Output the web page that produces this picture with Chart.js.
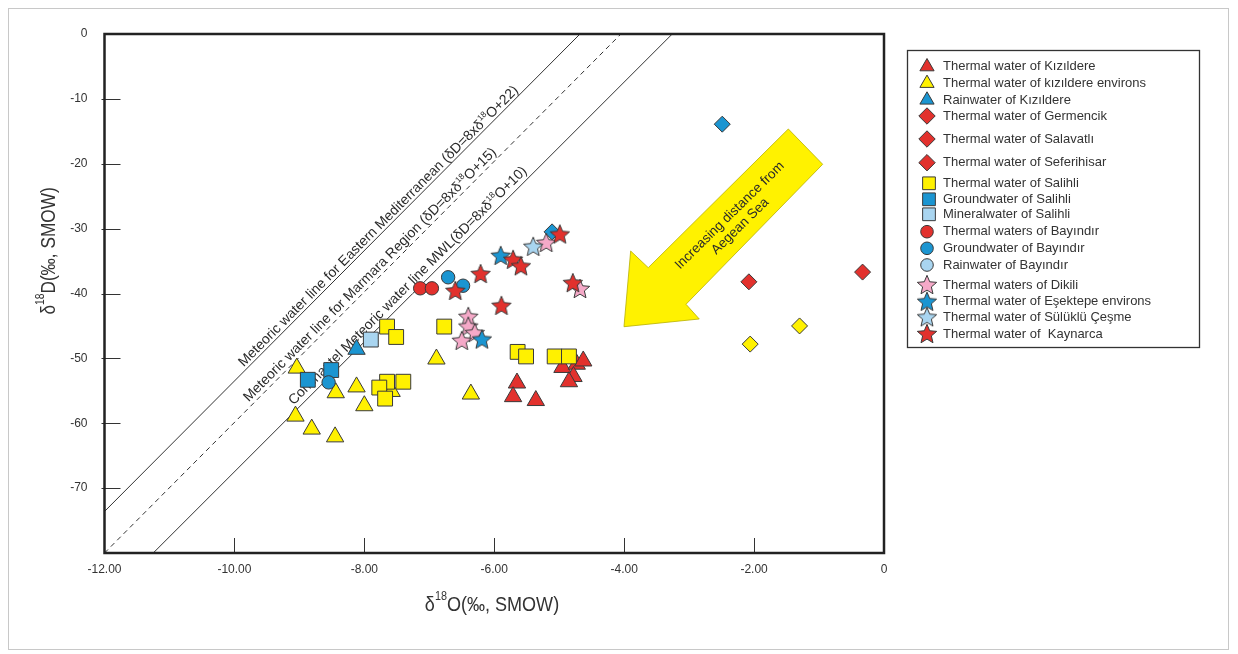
<!DOCTYPE html>
<html>
<head>
<meta charset="utf-8">
<script src="https://cdn.jsdelivr.net/npm/chart.js@4.4.1/dist/chart.umd.min.js"></script>
<style>
  html, body { margin: 0; padding: 0; background: #fff; }
  #wrap { width: 1238px; height: 654px; }
</style>
</head>
<body>
<div id="wrap"><canvas id="isotopeChart" width="1238" height="654"></canvas></div>
<script>
// δ18O / δD pairs
const kizildereThermal = [[-4.95,-51.4],[-4.73,-50.9],[-4.63,-50.4],[-4.78,-52.8],[-4.85,-53.6],[-5.65,-53.8],[-5.71,-55.9],[-5.36,-56.5]];
const kizildereEnvirons = [[-9.04,-51.5],[-8.44,-55.3],[-8.12,-54.4],[-8.00,-57.3],[-9.06,-58.9],[-8.81,-60.9],[-8.45,-62.1],[-7.58,-55.1],[-6.89,-50.1],[-6.36,-55.5]];
const kizildereRain = [[-8.12,-48.6]];
const germencik = [[-2.08,-38.2],[-0.33,-36.7]];
const salavatli = [[-1.30,-45.0],[-2.06,-47.8]];
const seferihisar = [[-2.49,-13.9],[-5.11,-30.5]];
const salihliThermal = [[-7.65,-45.1],[-7.51,-46.7],[-6.77,-45.1],[-5.64,-49.0],[-5.51,-49.7],[-5.07,-49.7],[-4.85,-49.7],[-7.65,-53.6],[-7.77,-54.5],[-7.40,-53.6],[-7.68,-56.2]];
const salihliGround = [[-8.87,-53.3],[-8.51,-51.8]];
const salihliMineral = [[-7.90,-47.1]];
const bayindirThermal = [[-7.14,-39.2],[-6.96,-39.2]];
const bayindirGround = [[-6.71,-37.5],[-6.48,-38.8],[-8.55,-53.7]];
const bayindirRain = [];
const dikili = [[-5.20,-32.2],[-4.68,-39.3],[-6.40,-43.6],[-6.40,-45.1],[-6.30,-46.1],[-6.50,-47.3]];
const esektepe = [[-5.90,-34.2],[-6.19,-47.1]];
const suluklu = [[-5.40,-32.8]];
const kaynarca = [[-6.60,-39.6],[-6.21,-37.0],[-5.71,-34.8],[-5.59,-35.8],[-4.99,-30.9],[-4.79,-38.4],[-5.89,-41.9]];

const seriesNames = ['Thermal water of Kızıldere', 'Thermal water of kızıldere environs', 'Rainwater of Kızıldere',
  'Thermal water of Germencik', 'Thermal water of Salavatlı', 'Thermal water of Seferihisar',
  'Thermal water of Salihli', 'Groundwater of Salihli', 'Mineralwater of Salihli',
  'Thermal waters of Bayındır', 'Groundwater of Bayındır', 'Rainwater of Bayındır',
  'Thermal waters of Dikili', 'Thermal water of Eşektepe environs', 'Thermal water of Sülüklü Çeşme', 'Thermal water of  Kaynarca'];
const seriesData = [kizildereThermal, kizildereEnvirons, kizildereRain, germencik, salavatli, seferihisar,
  salihliThermal, salihliGround, salihliMineral, bayindirThermal, bayindirGround, bayindirRain,
  dikili, esektepe, suluklu, kaynarca];

// meteoric water lines, end points as drawn in the figure
const eastMedLine = [[-12, -73.6], [-4.68, 0]];
const marmaraLine = [[-12, -80], [-4.05, 0]];
const continentalLine = [[-11.25, -80], [-3.26, 0]];

const xTickValues = [-12, -10, -8, -6, -4, -2, 0];
const yTickValues = [-80, -70, -60, -50, -40, -30, -20, -10, 0];

// arrow outline (data coords)
const arrowShape = [[-1.473,-14.64],[-0.944,-20.08],[-3.048,-41.66],[-2.844,-43.93],[-4.003,-45.12],[-3.90,-33.45],[-3.629,-36.02]];

const RED = '#e2312d', YEL = '#fff100', BLUE = '#1b95d1', LBLUE = '#a9d5f0', PINK = '#f5a9c8';
const EDGE = '#3a3a3a';
const FONT = '"Liberation Sans", Arial, sans-serif';

function makeStar(fill) {
  const c = document.createElement('canvas');
  c.width = 24; c.height = 24;
  const g = c.getContext('2d');
  g.beginPath();
  for (let i = 0; i < 10; i++) {
    const r = i % 2 ? 4.6 : 10.2;
    const a = -Math.PI / 2 + i * Math.PI / 5;
    g.lineTo(12 + r * Math.cos(a), 12.5 + r * Math.sin(a));
  }
  g.closePath();
  g.fillStyle = fill; g.fill();
  g.lineWidth = 1; g.strokeStyle = EDGE; g.stroke();
  return c;
}

const seriesStyle = [
  { shape: 'triangle', fill: RED }, { shape: 'triangle', fill: YEL }, { shape: 'triangle', fill: BLUE },
  { shape: 'rectRot', fill: RED }, { shape: 'rectRot', fill: YEL }, { shape: 'rectRot', fill: BLUE },
  { shape: 'rect', fill: YEL }, { shape: 'rect', fill: BLUE }, { shape: 'rect', fill: LBLUE },
  { shape: 'circle', fill: RED }, { shape: 'circle', fill: BLUE }, { shape: 'circle', fill: LBLUE },
  { shape: 'star', fill: PINK }, { shape: 'star', fill: BLUE }, { shape: 'star', fill: LBLUE }, { shape: 'star', fill: RED }
];
const plotRadius = { triangle: 10, rectRot: 8, rect: 10.5, circle: 6.7, star: 10 };
const legendRadius = { triangle: 8.2, rectRot: 8.2, rect: 9, circle: 6.3, star: 10 };
const legendRows = [66.7, 83.3, 100, 116, 139, 162.7, 183.3, 199.3, 214.3, 231.7, 248.3, 265, 285, 301.7, 317.3, 334];

seriesStyle.forEach(s => { if (s.shape === 'star') s.img = makeStar(s.fill); });

function richWidth(ctx, parts, size) {
  let w = 0;
  parts.forEach(p => {
    const sup = typeof p !== 'string';
    ctx.font = (sup ? size * 0.6 : size) + 'px ' + FONT;
    w += ctx.measureText(sup ? p.sup : p).width;
  });
  return w;
}
function drawRich(ctx, parts, x, y, size, align) {
  const w = richWidth(ctx, parts, size);
  let cx = align === 'right' ? x - w : align === 'center' ? x - w / 2 : x;
  ctx.textAlign = 'left';
  parts.forEach(p => {
    const sup = typeof p !== 'string';
    const t = sup ? p.sup : p;
    ctx.font = (sup ? size * 0.6 : size) + 'px ' + FONT;
    ctx.fillText(t, cx, sup ? y - size * 0.42 : y);
    cx += ctx.measureText(t).width;
  });
}

function drawLineLabel(chart, line, endX, offset, parts) {
  const ctx = chart.ctx, xs = chart.scales.x, ys = chart.scales.y;
  const ax = xs.getPixelForValue(line[0][0]), ay = ys.getPixelForValue(line[0][1]);
  const bx = xs.getPixelForValue(line[1][0]), by = ys.getPixelForValue(line[1][1]);
  const t = (xs.getPixelForValue(endX) - ax) / (bx - ax);
  ctx.save();
  ctx.translate(ax + t * (bx - ax), ay + t * (by - ay));
  ctx.rotate(Math.atan2(by - ay, bx - ax));
  ctx.fillStyle = '#2a2a2a';
  ctx.textBaseline = 'alphabetic';
  drawRich(ctx, parts, 0, -offset, 14, 'right');
  ctx.restore();
}

const decorPlugin = {
  id: 'decor',
  beforeDraw(chart) {
    const ctx = chart.ctx;
    ctx.save();
    ctx.fillStyle = '#fff';
    ctx.fillRect(0, 0, chart.width, chart.height);
    ctx.strokeStyle = '#c8c8c8';
    ctx.lineWidth = 1;
    ctx.strokeRect(8.5, 8.5, 1220, 641);
    ctx.restore();
  },
  beforeDatasetsDraw(chart) {
    const ctx = chart.ctx, xs = chart.scales.x, ys = chart.scales.y;
    // yellow arrow
    ctx.save();
    ctx.beginPath();
    arrowShape.forEach(([x, y]) => ctx.lineTo(xs.getPixelForValue(x), ys.getPixelForValue(y)));
    ctx.closePath();
    ctx.fillStyle = '#fff200';
    ctx.fill();
    ctx.strokeStyle = '#b8b000';
    ctx.lineWidth = 0.8;
    ctx.stroke();
    ctx.translate(xs.getPixelForValue(-2.294), ys.getPixelForValue(-28.82));
    ctx.rotate(-44.5 * Math.PI / 180);
    ctx.fillStyle = '#2a2a2a';
    ctx.textAlign = 'center';
    ctx.textBaseline = 'middle';
    ctx.font = '13.5px ' + FONT;
    ctx.fillText('Increasing distance from', 0, -7.5);
    ctx.fillText('Aegean Sea', 0, 7.5);
    ctx.restore();

    drawLineLabel(chart, eastMedLine, -5.587, 3, ['Meteoric water line for Eastern Mediterranean (δD=8xδ', { sup: '18' }, 'O+22)']);
    drawLineLabel(chart, marmaraLine, -5.915, 4, ['Meteoric water line for Marmara Region (δD=8xδ', { sup: '18' }, 'O+15)']);
    drawLineLabel(chart, continentalLine, -5.434, 5, ['Continantel Meteoric water line MWL(δD=8xδ', { sup: '18' }, 'O+10)']);
  },
  afterDraw(chart) {
    const ctx = chart.ctx, a = chart.chartArea, xs = chart.scales.x, ys = chart.scales.y;
    ctx.save();
    // inside tick marks
    ctx.strokeStyle = '#333';
    ctx.lineWidth = 1;
    ctx.beginPath();
    yTickValues.slice(1, -1).forEach(v => {
      const y = Math.round(ys.getPixelForValue(v)) + 0.5;
      ctx.moveTo(a.left - 3, y); ctx.lineTo(a.left + 16, y);
    });
    xTickValues.slice(1, -1).forEach(v => {
      const x = Math.round(xs.getPixelForValue(v)) + 0.5;
      ctx.moveTo(x, a.bottom); ctx.lineTo(x, a.bottom - 15);
    });
    ctx.stroke();
    // plot frame
    ctx.strokeStyle = '#222';
    ctx.lineWidth = 2.5;
    ctx.strokeRect(a.left, a.top, a.right - a.left, a.bottom - a.top);

    // axis titles (condensed, with superscript)
    ctx.fillStyle = '#333';
    ctx.textBaseline = 'middle';
    ctx.save();
    ctx.translate(492, 605);
    ctx.scale(0.88, 1);
    drawRich(ctx, ['δ', { sup: '18' }, 'O(‰, SMOW)'], 0, 0, 20.5, 'center');
    ctx.restore();
    ctx.save();
    ctx.translate(49, 251);
    ctx.rotate(-Math.PI / 2);
    ctx.scale(0.84, 1);
    drawRich(ctx, ['δ', { sup: '18' }, 'D(‰, SMOW)'], 0, 0, 20.5, 'center');
    ctx.restore();

    // legend box
    ctx.strokeStyle = '#333';
    ctx.lineWidth = 1.3;
    ctx.strokeRect(907.5, 50.5, 292, 297);
    seriesNames.forEach((name, i) => {
      const st = seriesStyle[i];
      const y = legendRows[i];
      ctx.fillStyle = st.shape === 'rectRot' ? RED : st.fill;
      ctx.strokeStyle = EDGE;
      ctx.lineWidth = 1;
      Chart.helpers.drawPoint(ctx, {
        pointStyle: st.img || st.shape,
        radius: legendRadius[st.shape],
        rotation: 0,
        borderWidth: 1
      }, st.shape === 'rect' ? 929 : 927, y);
      ctx.fillStyle = '#333';
      ctx.textAlign = 'left';
      ctx.textBaseline = 'middle';
      ctx.font = '13px ' + FONT;
      ctx.fillText(name, 943, y);
    });
    ctx.restore();
  }
};

const lineSet = (pts, dash) => ({
  type: 'line',
  data: pts.map(([x, y]) => ({ x, y })),
  borderColor: '#333',
  borderWidth: 1,
  borderDash: dash,
  pointRadius: 0,
  fill: false,
  order: 100
});

const datasets = [
  lineSet(eastMedLine, []),
  lineSet(marmaraLine, [5, 4]),
  lineSet(continentalLine, [])
];
seriesNames.forEach((name, i) => {
  const st = seriesStyle[i];
  datasets.push({
    label: name,
    data: seriesData[i].map(([x, y]) => ({ x, y })),
    pointStyle: st.img || st.shape,
    pointRadius: plotRadius[st.shape],
    pointHoverRadius: plotRadius[st.shape],
    backgroundColor: st.fill,
    borderColor: EDGE,
    borderWidth: 1,
    order: -i
  });
});

new Chart(document.getElementById('isotopeChart').getContext('2d'), {
  type: 'scatter',
  data: { datasets },
  options: {
    responsive: false,
    animation: false,
    events: [],
    layout: { padding: { top: 34, right: 354, bottom: 0, left: 0 } },
    scales: {
      x: {
        type: 'linear', min: -12, max: 0,
        afterBuildTicks: s => { s.ticks = xTickValues.map(v => ({ value: v })); },
        afterFit: s => { s.height = 101; },
        ticks: {
          color: '#333', padding: 9,
          font: { family: FONT, size: 12 },
          callback: v => v === 0 ? '0' : v.toFixed(2)
        },
        grid: { display: false, drawTicks: false },
        border: { display: false }
      },
      y: {
        type: 'linear', min: -80, max: 0,
        afterBuildTicks: s => { s.ticks = yTickValues.map(v => ({ value: v })); },
        afterFit: s => { s.width = 104.5; },
        ticks: {
          color: '#333', padding: 17,
          font: { family: FONT, size: 12 },
          callback: v => v === -80 ? '' : String(v)
        },
        grid: { display: false, drawTicks: false },
        border: { display: false }
      }
    },
    plugins: {
      legend: { display: false },
      tooltip: { enabled: false }
    }
  },
  plugins: [decorPlugin]
});
</script>
</body>
</html>
